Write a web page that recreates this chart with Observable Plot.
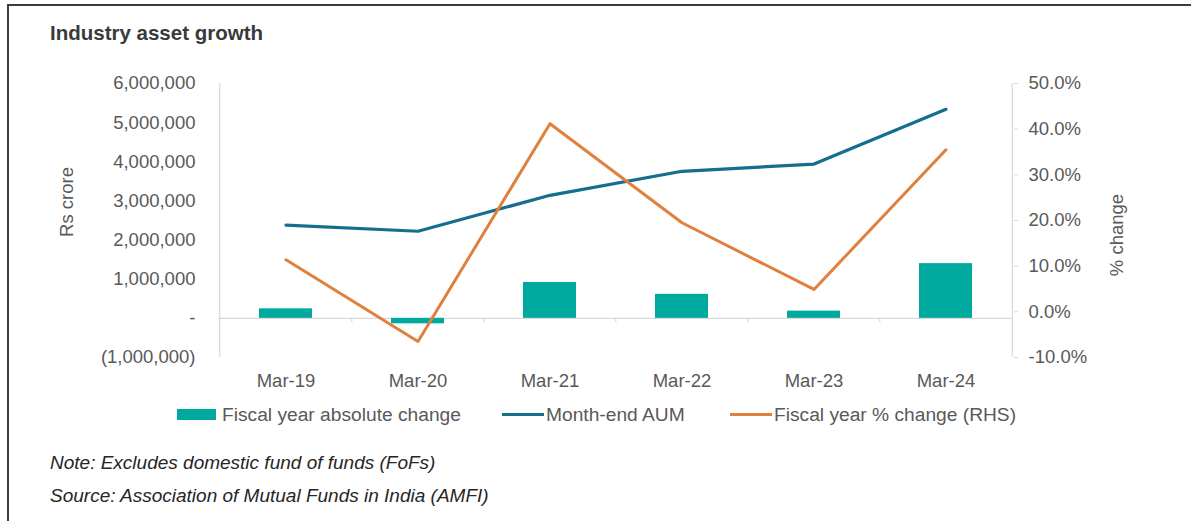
<!DOCTYPE html>
<html>
<head>
<meta charset="utf-8">
<script src="https://cdn.jsdelivr.net/npm/d3@7"></script>
<script src="https://cdn.jsdelivr.net/npm/@observablehq/plot@0.6"></script>
<style>
  body { margin: 0; background: #fff; font-family: "Liberation Sans", Arial, sans-serif; }
  #wrap { position: relative; width: 1191px; height: 521px; overflow: hidden; background: #fff; }
  .bt { position: absolute; left: 7px; top: 4px; width: 1184px; height: 2px; background: #3c3c3c; }
  .bl { position: absolute; left: 7px; top: 4px; width: 2px; height: 517px; background: #3c3c3c; }
  #title { position: absolute; left: 50px; top: 22.5px; font-size: 20.5px; line-height: 20.5px; font-weight: bold; color: #3a3a3a; white-space: nowrap; }
  #chart { position: absolute; left: 0; top: 50px; }
  .ylab { position: absolute; font-size: 18.5px; line-height: 18.5px; color: #595959; white-space: nowrap; transform: translate(-50%, -50%) rotate(-90deg); }
  .leg { position: absolute; top: 404.5px; font-size: 19.2px; line-height: 19.2px; color: #595959; white-space: nowrap; }
  .sw { position: absolute; }
  .note { position: absolute; left: 50px; font-size: 19px; line-height: 19px; font-style: italic; color: #262626; white-space: nowrap; }
</style>
</head>
<body>
<div id="wrap">
  <div class="bt"></div>
  <div class="bl"></div>
  <div id="title">Industry asset growth</div>
  <div id="chart"></div>
  <div class="ylab" style="left:67px; top:202px;">Rs crore</div>
  <div class="ylab" style="left:1117px; top:235px;">% change</div>
  <div id="legend"></div>
  <div class="note" style="top:453px;">Note: Excludes domestic fund of funds (FoFs)</div>
  <div class="note" style="top:486px;">Source: Association of Mutual Funds in India (AMFI)</div>
</div>
<script>
// ---- data ----
const categories = ["Mar-19", "Mar-20", "Mar-21", "Mar-22", "Mar-23", "Mar-24"];
const absChange = [243000, -140000, 917000, 614000, 185000, 1398000];   // Rs crore
const monthEndAUM = [2380000, 2226000, 3143000, 3757000, 3942000, 5340000]; // Rs crore
const pctChange = [11.4, -6.5, 41.2, 19.5, 4.9, 35.5]; // %
const leftTicks = [-1000000, 0, 1000000, 2000000, 3000000, 4000000, 5000000, 6000000];
const rightTicks = [-10, 0, 10, 20, 30, 40, 50];
const legendLabels = ["Fiscal year absolute change", "Month-end AUM", "Fiscal year % change (RHS)"];

const colBar = "#00a99d", colAUM = "#146e8e", colPct = "#e0803e", colAxis = "#d9d9d9", colText = "#595959";

const yMin = -1000000, yMax = 6000000, pMin = -10, pMax = 50;
const toY = p => yMin + (p - pMin) / (pMax - pMin) * (yMax - yMin);
const fromY = v => pMin + (v - yMin) / (yMax - yMin) * (pMax - pMin);

const data = categories.map((c, i) => ({cat: c, abs: absChange[i], aum: monthEndAUM[i], pct: pctChange[i], pctY: toY(pctChange[i])}));

const W = 1191, H = 350, mL = 218, mR = 178, mT = 33, mB = 43;
const step = (W - mL - mR) / categories.length;

const fmtLeft = v => v === 0 ? "-" : v < 0 ? "(" + d3.format(",")(-v) + ")" : d3.format(",")(v);
const fmtRight = v => (Math.round(fromY(v) * 10) / 10).toFixed(1) + "%";

const chart = Plot.plot({
  width: W, height: H,
  marginLeft: mL, marginRight: mR, marginTop: mT, marginBottom: mB,
  style: {fontFamily: "Liberation Sans, Arial, sans-serif", background: "transparent"},
  x: {domain: categories, paddingInner: 0.6, paddingOuter: 0.3, axis: null},
  y: {domain: [yMin, yMax], axis: null},
  marks: [
    Plot.ruleY([0], {stroke: colAxis, strokeWidth: 1.2}),
    Plot.ruleX(categories.slice(1), {y1: 0, y2: -110000, dx: -step / 2, stroke: colAxis, strokeWidth: 1.2}),
    Plot.ruleX([categories[0]], {y1: yMin, y2: yMax, dx: -step / 2, stroke: colAxis, strokeWidth: 1.2}),
    Plot.ruleX([categories[categories.length - 1]], {y1: yMin, y2: yMax, dx: step / 2, stroke: colAxis, strokeWidth: 1.2}),
    Plot.barY(data, {x: "cat", y: "abs", fill: colBar}),
    Plot.line(data, {x: "cat", y: "aum", stroke: colAUM, strokeWidth: 3.2}),
    Plot.line(data, {x: "cat", y: "pctY", stroke: colPct, strokeWidth: 3}),
    Plot.axisX({tickSize: 0, tickPadding: 16, fontSize: 18.5, fill: colText, label: null}),
    Plot.axisY(leftTicks, {anchor: "left", tickSize: 0, tickPadding: 23, tickFormat: fmtLeft, fontSize: 18.5, fill: colText, label: null}),
    Plot.axisY(rightTicks.map(toY), {anchor: "right", tickSize: 4, tickPadding: 11, tickFormat: fmtRight, fontSize: 18.5, fill: colText, stroke: colAxis, label: null})
  ]
});
document.getElementById("chart").appendChild(chart);

// ---- legend ----
const leg = document.getElementById("legend");
const items = [
  {label: legendLabels[0], color: colBar, type: "bar", sx: 177, sw: 39, tx: 222},
  {label: legendLabels[1], color: colAUM, type: "line", sx: 502, sw: 42, tx: 546},
  {label: legendLabels[2], color: colPct, type: "line", sx: 730, sw: 42, tx: 774}
];
items.forEach(it => {
  const s = document.createElement("div");
  s.className = "sw";
  s.style.left = it.sx + "px";
  s.style.width = it.sw + "px";
  s.style.background = it.color;
  if (it.type === "bar") { s.style.top = "409px"; s.style.height = "11px"; }
  else { s.style.top = "413px"; s.style.height = "3px"; }
  leg.appendChild(s);
  const t = document.createElement("div");
  t.className = "leg";
  t.style.left = it.tx + "px";
  t.textContent = it.label;
  leg.appendChild(t);
});
</script>
</body>
</html>
